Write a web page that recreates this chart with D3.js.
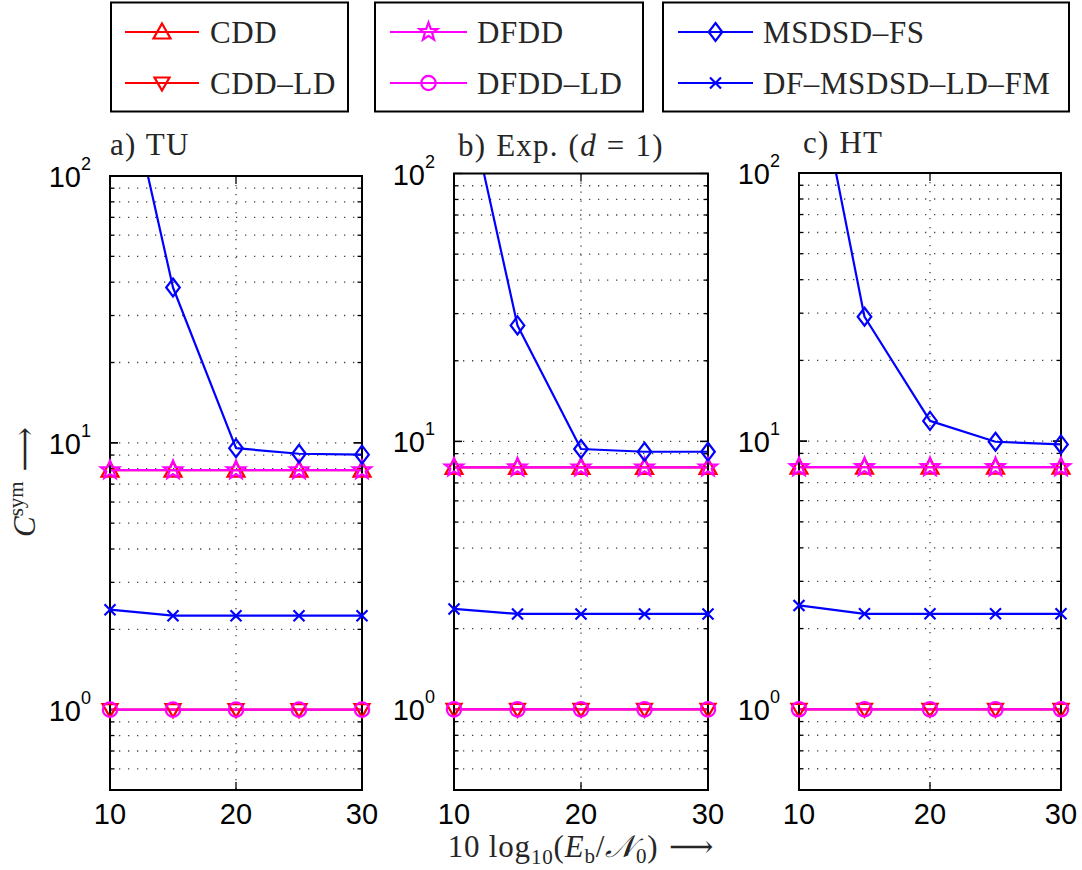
<!DOCTYPE html>
<html>
<head>
<meta charset="utf-8">
<script src="https://cdn.jsdelivr.net/npm/d3@7"></script>
<style>
  body { margin: 0; background: #fff; }
  svg { display: block; }
</style>
</head>
<body>
<svg id="chart" width="1082" height="870"></svg>
<script>
// ---- data -------------------------------------------------------------
const snr = [10, 15, 20, 25, 30];           // 10 log10(Eb/N0) in dB
const xTicks = [10, 20, 30];
const yTicks = [1, 10, 100];
const yDomain = [0.5, 100];

// complexity per symbol C^sym, one array per scenario
const cddTU = [7.9, 7.9, 7.9, 7.9, 7.9];
const cddExp = [8.0, 8.0, 8.0, 8.0, 8.0];
const cddHT = [8.0, 8.0, 8.0, 8.0, 8.0];

const cddLdTU = [1, 1, 1, 1, 1];
const cddLdExp = [1, 1, 1, 1, 1];
const cddLdHT = [1, 1, 1, 1, 1];

const dfddTU = [7.9, 7.9, 7.9, 7.9, 7.9];
const dfddExp = [8.0, 8.0, 8.0, 8.0, 8.0];
const dfddHT = [8.0, 8.0, 8.0, 8.0, 8.0];

const dfddLdTU = [1, 1, 1, 1, 1];
const dfddLdExp = [1, 1, 1, 1, 1];
const dfddLdHT = [1, 1, 1, 1, 1];

const msdsdTU = [430, 38.2, 9.55, 9.1, 9.03];
const msdsdExp = [321, 27.1, 9.37, 9.15, 9.15];
const msdsdHT = [498, 29.1, 11.9, 9.95, 9.72];

const dfMsdsdTU = [2.37, 2.25, 2.25, 2.25, 2.25];
const dfMsdsdExp = [2.37, 2.27, 2.27, 2.27, 2.27];
const dfMsdsdHT = [2.44, 2.27, 2.27, 2.27, 2.27];

const seriesNames = ["CDD", "CDD–LD", "DFDD", "DFDD–LD", "MSDSD–FS", "DF–MSDSD–LD–FM"];
const panelData = [
  [cddTU, cddLdTU, dfddTU, dfddLdTU, msdsdTU, dfMsdsdTU],
  [cddExp, cddLdExp, dfddExp, dfddLdExp, msdsdExp, dfMsdsdExp],
  [cddHT, cddLdHT, dfddHT, dfddLdHT, msdsdHT, dfMsdsdHT]
];

// ---- styling / layout -------------------------------------------------
const seriesStyle = [
  { color: "#ff0000", marker: "tri" },
  { color: "#ff0000", marker: "tridown" },
  { color: "#ff00ff", marker: "star" },
  { color: "#ff00ff", marker: "circle" },
  { color: "#0000ff", marker: "diamond" },
  { color: "#0000ff", marker: "cross" }
];

const panelLayout = [
  { left: 110, right: 362, top: 176, bottom: 790 },
  { left: 454, right: 708, top: 173.5, bottom: 790 },
  { left: 799, right: 1061, top: 173, bottom: 790 }
];

const SERIF = "'Liberation Serif', 'DejaVu Serif', serif";
const SANS = "'Liberation Sans', Arial, sans-serif";
const TEXT_COL = "#262626";

function markerPath(type) {
  switch (type) {
    case "tri": return "M0,-8.5L8.5,6.5L-8.5,6.5Z";
    case "tridown": return "M0,7.5L7.5,-5.5L-7.5,-5.5Z";
    case "diamond": return "M0,-9L6.8,0L0,9L-6.8,0Z";
    case "cross": return "M-5.5,-5.5L5.5,5.5M-5.5,5.5L5.5,-5.5";
    case "circle": {
      const p = d3.path(); p.arc(0, 0, 7.2, 0, 2 * Math.PI); p.closePath(); return p.toString();
    }
    case "star": {
      const pts = [];
      for (let i = 0; i < 10; i++) {
        const r = i % 2 === 0 ? 9.5 : 3.9;
        const a = -Math.PI / 2 + i * Math.PI / 5;
        pts.push([r * Math.cos(a), r * Math.sin(a)]);
      }
      return "M" + pts.map(p => p[0].toFixed(2) + "," + p[1].toFixed(2)).join("L") + "Z";
    }
  }
}

const svg = d3.select("#chart");

// ---- panels -----------------------------------------------------------
panelLayout.forEach((L, pi) => {
  const x = d3.scaleLinear().domain([snr[0], snr[snr.length - 1]]).range([L.left, L.right]);
  const y = d3.scaleLog().domain(yDomain).range([L.bottom, L.top]);
  const g = svg.append("g");

  const clipId = "clip" + pi;
  svg.append("clipPath").attr("id", clipId)
    .append("rect").attr("x", L.left).attr("y", L.top)
    .attr("width", L.right - L.left).attr("height", L.bottom - L.top);

  // dotted grid: major and minor log lines, plus x ticks
  const minor = [];
  [0.1, 1, 10].forEach(dec => { for (let k = 1; k <= 9; k++) minor.push(+(k * dec).toPrecision(3)); });
  const yGrid = minor.filter(v => v > yDomain[0] && v < yDomain[1]);
  g.append("g").selectAll("line").data(yGrid).join("line")
    .attr("x1", L.left).attr("x2", L.right)
    .attr("y1", d => y(d)).attr("y2", d => y(d))
    .attr("stroke", "#444").attr("stroke-width", 1.3)
    .attr("stroke-dasharray", "1.3,7.7");
  g.append("g").selectAll("line").data(xTicks.slice(1, -1)).join("line")
    .attr("x1", d => x(d)).attr("x2", d => x(d))
    .attr("y1", L.top).attr("y2", L.bottom)
    .attr("stroke", "#444").attr("stroke-width", 1.3)
    .attr("stroke-dasharray", "1.3,7.7");

  // inward tick marks
  const tk = g.append("g").attr("stroke", "#000").attr("stroke-width", 1.3);
  yGrid.concat(yTicks).forEach(v => {
    const len = yTicks.includes(v) ? 8 : 4.5;
    const yy = y(v);
    tk.append("line").attr("x1", L.left).attr("x2", L.left + len).attr("y1", yy).attr("y2", yy);
    tk.append("line").attr("x1", L.right).attr("x2", L.right - len).attr("y1", yy).attr("y2", yy);
  });
  xTicks.forEach(v => {
    tk.append("line").attr("x1", x(v)).attr("x2", x(v)).attr("y1", L.bottom).attr("y2", L.bottom - 8);
    tk.append("line").attr("x1", x(v)).attr("x2", x(v)).attr("y1", L.top).attr("y2", L.top + 8);
  });

  // data lines (clipped to the axes box)
  const line = d3.line().x((d, i) => x(snr[i])).y(d => y(d));
  const lines = g.append("g").attr("clip-path", `url(#${clipId})`);
  panelData[pi].forEach((vals, si) => {
    lines.append("path").attr("d", line(vals))
      .attr("fill", "none").attr("stroke", seriesStyle[si].color)
      .attr("stroke-width", 2.2).attr("stroke-linejoin", "round");
  });

  // axes box
  g.append("rect").attr("x", L.left).attr("y", L.top)
    .attr("width", L.right - L.left).attr("height", L.bottom - L.top)
    .attr("fill", "none").attr("stroke", "#000").attr("stroke-width", 2);

  // markers (only those inside the y range)
  panelData[pi].forEach((vals, si) => {
    const st = seriesStyle[si];
    g.append("g").selectAll("path")
      .data(vals.map((v, i) => [snr[i], v]).filter(d => d[1] <= yDomain[1] && d[1] >= yDomain[0]))
      .join("path")
      .attr("d", markerPath(st.marker))
      .attr("transform", d => `translate(${x(d[0])},${y(d[1])})`)
      .attr("fill", "none").attr("stroke", st.color).attr("stroke-width", 2.2);
  });

  // y tick labels 10^k
  yTicks.forEach(v => {
    const t = g.append("text").attr("x", L.left - 19).attr("y", y(v) + 11)
      .attr("text-anchor", "end").attr("font-family", SANS).attr("font-size", 29).attr("fill", "#000");
    t.append("tspan").text("10");
    t.append("tspan").attr("dy", -17).attr("font-size", 18).text(Math.round(Math.log10(v)));
  });

  // x tick labels
  g.append("g").selectAll("text").data(xTicks).join("text")
    .attr("x", d => x(d)).attr("y", 824).attr("text-anchor", "middle")
    .attr("font-family", SANS).attr("font-size", 29).attr("fill", "#000")
    .text(d => d);
});

// ---- panel titles -----------------------------------------------------
const titleAttrs = sel => sel.attr("font-family", SERIF).attr("font-size", 31)
  .attr("fill", TEXT_COL).attr("letter-spacing", 1.2).attr("word-spacing", 1);
svg.append("text").attr("x", 110).attr("y", 155).call(titleAttrs).text("a) TU");
const titleB = svg.append("text").attr("x", 458).attr("y", 156).call(titleAttrs);
titleB.append("tspan").text("b) Exp. (");
titleB.append("tspan").attr("font-style", "italic").text("d");
titleB.append("tspan").text(" = 1)");
svg.append("text").attr("x", 803).attr("y", 153).call(titleAttrs).text("c) HT");

// ---- axis labels ------------------------------------------------------
const xl = svg.append("text").attr("x", 581).attr("y", 857).attr("text-anchor", "middle")
  .attr("font-family", SERIF).attr("font-size", 31).attr("fill", TEXT_COL)
  .attr("letter-spacing", 0.8);
xl.append("tspan").text("10 log");
xl.append("tspan").attr("font-size", 21).attr("dy", 7).text("10");
xl.append("tspan").attr("dy", -7).text("(");
xl.append("tspan").attr("font-style", "italic").text("E");
xl.append("tspan").attr("font-size", 21).attr("dy", 6).text("b");
xl.append("tspan").attr("dy", -6).text("/");
xl.append("tspan").attr("font-style", "italic").text("𝒩");
xl.append("tspan").attr("font-size", 21).attr("dy", 6).text("0");
xl.append("tspan").attr("dy", -6).text(")");
xl.append("tspan").attr("font-family", "'DejaVu Serif', serif").text("   ⟶");

const yl = svg.append("text").attr("transform", "translate(35,482) rotate(-90)")
  .attr("text-anchor", "middle")
  .attr("font-family", SERIF).attr("font-size", 31).attr("fill", TEXT_COL);
yl.append("tspan").attr("font-style", "italic").text("C");
yl.append("tspan").attr("font-size", 21).attr("dy", -12).text("sym");
yl.append("tspan").attr("dy", 12).attr("font-family", "'DejaVu Serif', serif").text("   ⟶");

// ---- legends ----------------------------------------------------------
const legendBoxes = [
  { x: 111, w: 237, lineX: [125, 199], textX: 210, items: [0, 1] },
  { x: 375, w: 268, lineX: [390, 467], textX: 477, items: [2, 3] },
  { x: 663, w: 406, lineX: [678, 753], textX: 763, items: [4, 5] }
];
const rowY = [32, 83];
legendBoxes.forEach(b => {
  const lg = svg.append("g");
  lg.append("rect").attr("x", b.x).attr("y", 2.5).attr("width", b.w).attr("height", 109)
    .attr("fill", "#fff").attr("stroke", "#000").attr("stroke-width", 2);
  b.items.forEach((si, r) => {
    const st = seriesStyle[si];
    lg.append("line").attr("x1", b.lineX[0]).attr("x2", b.lineX[1])
      .attr("y1", rowY[r]).attr("y2", rowY[r])
      .attr("stroke", st.color).attr("stroke-width", 2.2);
    lg.append("path").attr("d", markerPath(st.marker))
      .attr("transform", `translate(${(b.lineX[0] + b.lineX[1]) / 2},${rowY[r]})`)
      .attr("fill", "none").attr("stroke", st.color).attr("stroke-width", 2.2);
    lg.append("text").attr("x", b.textX).attr("y", rowY[r] + 11)
      .attr("font-family", SERIF).attr("font-size", 31).attr("fill", TEXT_COL)
      .attr("letter-spacing", 0.6)
      .text(seriesNames[si]);
  });
});
</script>
</body>
</html>
